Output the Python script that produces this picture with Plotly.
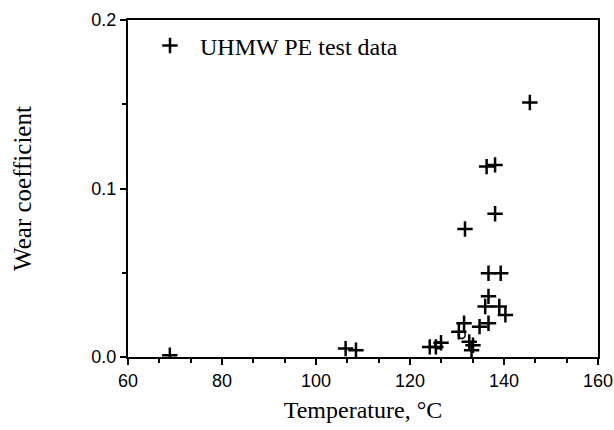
import plotly.graph_objects as go

# Data
temp_c = [68.9, 106.3, 108.5, 124.2, 125.5, 126.6, 130.4, 131.5, 131.7, 132.6,
          133.1, 133.4, 134.8, 136.0, 136.7, 136.7, 136.7, 136.3, 138.1, 138.1,
          139.0, 139.3, 140.3, 145.5]
wear_coef = [0.001, 0.005, 0.004, 0.006, 0.006, 0.0085, 0.015, 0.020, 0.076, 0.009,
             0.004, 0.007, 0.018, 0.030, 0.020, 0.036, 0.0497, 0.113, 0.114, 0.085,
             0.030, 0.0497, 0.025, 0.151]
circle_temp = [126.0, 131.0]
circle_wear = [0.007, 0.013]

x_ticks = [60, 80, 100, 120, 140, 160]
y_ticks = [0.0, 0.1, 0.2]

serif = "Liberation Serif, Times New Roman, serif"
sans = "Liberation Sans, Arial, sans-serif"

fig = go.Figure()
fig.add_trace(go.Scatter(
    x=temp_c, y=wear_coef, mode="markers", name="UHMW PE test data",
    marker=dict(symbol="cross-thin", size=11, color="black",
                line=dict(color="black", width=2.5)),
))
fig.add_trace(go.Scatter(
    x=circle_temp, y=circle_wear, mode="markers", showlegend=False,
    marker=dict(symbol="circle-open", size=7, color="black",
                line=dict(color="black", width=1.5)),
))

axis_common = dict(
    showline=True, linecolor="black", linewidth=2, mirror=True,
    showgrid=False, zeroline=False, ticks="outside", ticklen=6, tickwidth=2,
    tickcolor="black", automargin=False,
    tickfont=dict(family=sans, size=18, color="black"),
)

fig.update_layout(
    width=614, height=430,
    margin=dict(l=128, r=16, t=20, b=73),
    paper_bgcolor="white", plot_bgcolor="white",
    xaxis=dict(range=[60, 160], tickvals=x_ticks,
               minor=dict(dtick=20/3, tick0=60, ticks="outside", ticklen=4,
                          tickwidth=2, tickcolor="black"),
               title=dict(text="Temperature, °C", standoff=12,
                          font=dict(family=serif, size=24, color="black")),
               **axis_common),
    yaxis=dict(range=[0, 0.2], tickvals=y_ticks, tickformat=".1f",
               minor=dict(dtick=0.05, tick0=0, ticks="outside", ticklen=4,
                          tickwidth=2, tickcolor="black"),
               title=dict(text="Wear coefficient", standoff=53,
                          font=dict(family=serif, size=25, color="black")),
               **axis_common),
    legend=dict(x=0.0255, y=0.99, xanchor="left", yanchor="top",
                bgcolor="rgba(0,0,0,0)", itemwidth=50,
                font=dict(family=serif, size=24, color="black")),
    showlegend=True,
)

# Remove the browser's default page margin so the figure fills the window exactly.
fig.write_html("out.html",
               config={"displayModeBar": False},
               post_script="document.body.style.margin='0';document.body.style.overflow='hidden';")
